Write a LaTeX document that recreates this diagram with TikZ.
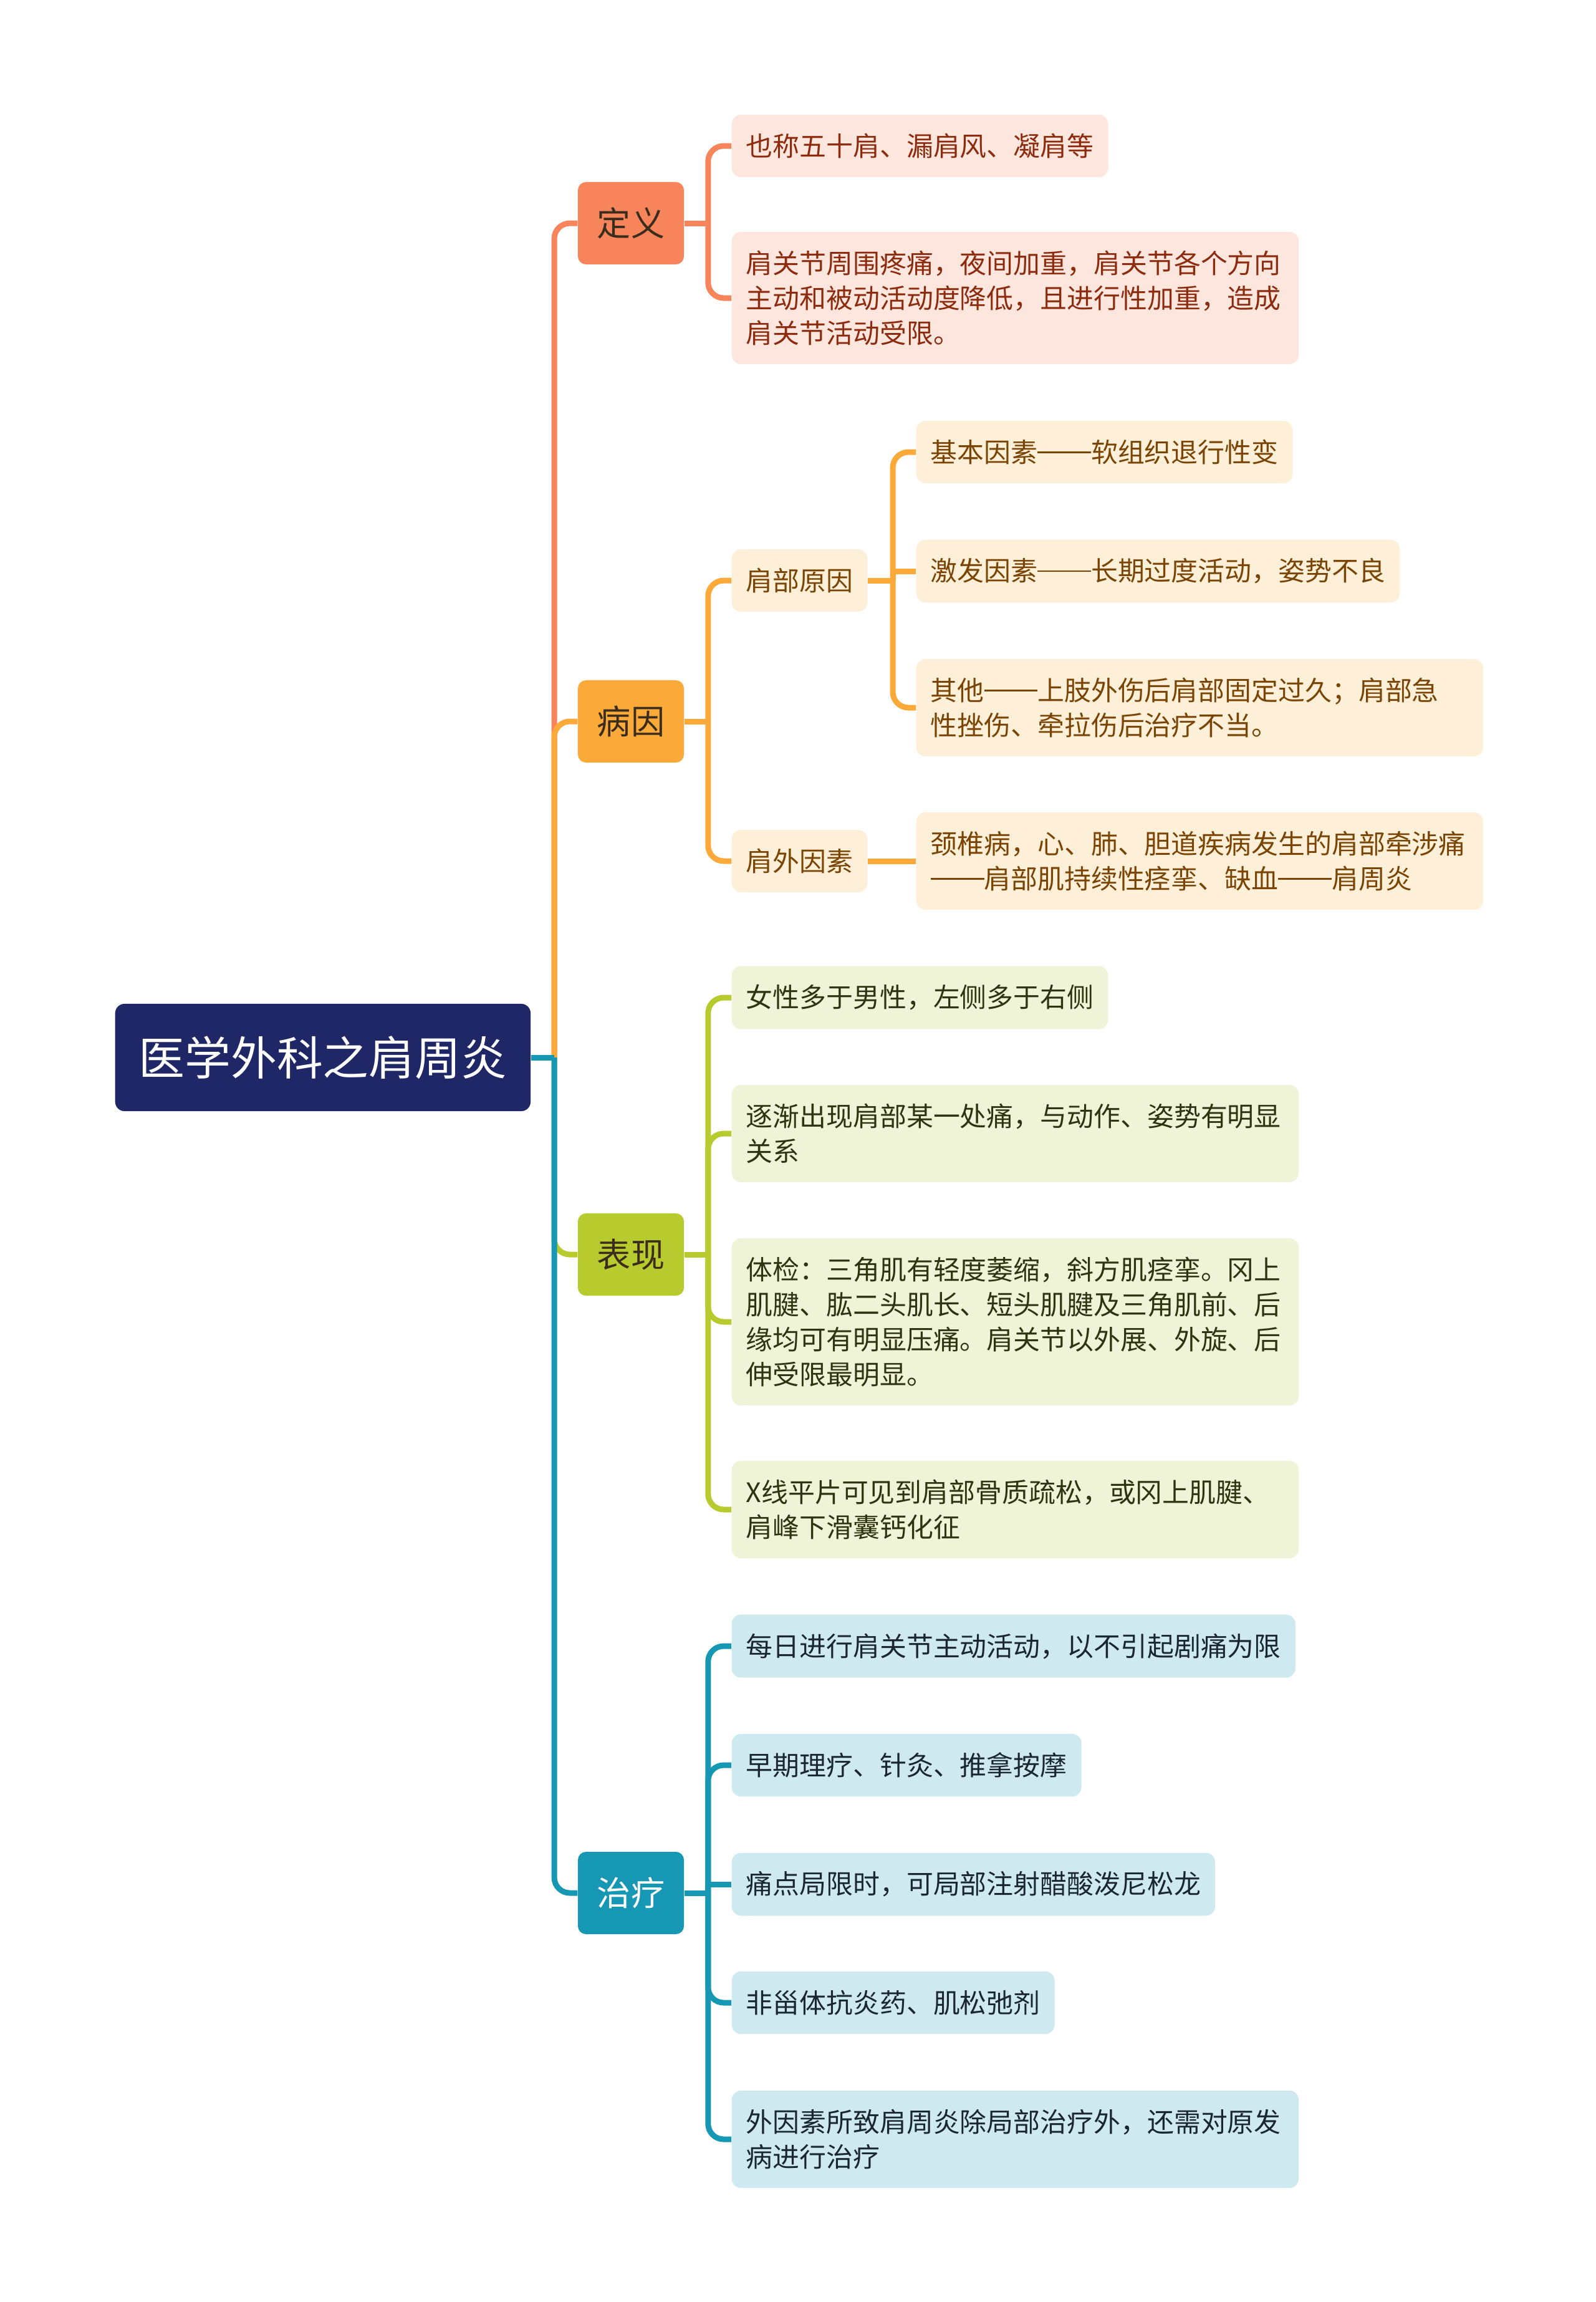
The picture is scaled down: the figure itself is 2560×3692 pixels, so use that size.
\documentclass[tikz,border=0pt]{standalone}
\usepackage{fontspec}
\usepackage{xcolor}
\usepackage{tikz}
\newfontfamily\cjk{Noto Sans CJK SC}
\newcommand\cnDash{\rule[0.34em]{2em}{0.06em}}

\definecolor{rootblue}{HTML}{202766}
\definecolor{topictext}{HTML}{3A2D1E}
\definecolor{defc}{HTML}{F7845A}
\definecolor{deflight}{HTML}{FDE6DD}
\definecolor{deftext}{HTML}{8C2B0E}
\definecolor{causec}{HTML}{FBAA3A}
\definecolor{causelight}{HTML}{FEF0D8}
\definecolor{causetext}{HTML}{7A4504}
\definecolor{showc}{HTML}{B7CB2E}
\definecolor{showlight}{HTML}{EFF3D7}
\definecolor{showtext}{HTML}{2F3410}
\definecolor{curec}{HTML}{1698B4}
\definecolor{curelight}{HTML}{CEE9F0}
\definecolor{curetext}{HTML}{1B2730}

\begin{document}
\begin{tikzpicture}[
    x=0.01cm, y=-0.01cm,
    root/.style={rectangle, fill=rootblue, text=white, rounded corners=0.15cm, minimum width=6.66cm, minimum height=1.72cm, font=\cjk\fontsize{21}{25}\selectfont},
    topic/.style={rectangle, rounded corners=0.13cm, minimum width=1.7cm, minimum height=1.32cm, inner sep=0pt, text=topictext, font=\cjk\fontsize{15.4}{18}\selectfont},
    leaf/.style={rectangle, rounded corners=0.15cm, anchor=west, align=left, inner xsep=0.23cm, inner ysep=0.3cm, font=\cjk\fontsize{12.2}{15.9}\selectfont},
    wide/.style={text width=8.63cm},
    link/.style={line width=0.09cm, rounded corners=0.25cm}
]
\useasboundingbox (0,0) rectangle (2560,3692);

\node[root, anchor=west] (root) at (184,1696) {医学外科之肩周炎};

\node[topic, fill=defc] (def) at (1012,358) {定义};
\node[topic, fill=causec] (cause) at (1012,1157) {病因};
\node[topic, fill=showc] (show) at (1012,2012) {表现};
\node[topic, fill=curec, text=white] (cure) at (1012,3036) {治疗};

% 定义
\node[leaf, fill=deflight, text=deftext] (d1) at (1173,234) {也称五十肩、漏肩风、凝肩等};
\node[leaf, wide, fill=deflight, text=deftext] (d2) at (1173,478) {肩关节周围疼痛，夜间加重，肩关节各个方向\\主动和被动活动度降低，且进行性加重，造成\\肩关节活动受限。};

% 病因
\node[leaf, fill=causelight, text=causetext] (c1) at (1173,931) {肩部原因};
\node[leaf, fill=causelight, text=causetext] (c2) at (1173,1381) {肩外因素};
\node[leaf, fill=causelight, text=causetext] (c11) at (1469,725) {基本因素\cnDash 软组织退行性变};
\node[leaf, fill=causelight, text=causetext] (c12) at (1469,916) {激发因素\cnDash 长期过度活动，姿势不良};
\node[leaf, wide, fill=causelight, text=causetext] (c13) at (1469,1135) {其他\cnDash 上肢外伤后肩部固定过久；肩部急\\性挫伤、牵拉伤后治疗不当。};
\node[leaf, wide, fill=causelight, text=causetext] (c21) at (1469,1381) {颈椎病，心、肺、胆道疾病发生的肩部牵涉痛\\\cnDash 肩部肌持续性痉挛、缺血\cnDash 肩周炎};

% 表现
\node[leaf, fill=showlight, text=showtext] (s1) at (1173,1600) {女性多于男性，左侧多于右侧};
\node[leaf, wide, fill=showlight, text=showtext] (s2) at (1173,1818) {逐渐出现肩部某一处痛，与动作、姿势有明显\\关系};
\node[leaf, wide, fill=showlight, text=showtext] (s3) at (1173,2120) {体检：三角肌有轻度萎缩，斜方肌痉挛。冈上\\肌腱、肱二头肌长、短头肌腱及三角肌前、后\\缘均可有明显压痛。肩关节以外展、外旋、后\\伸受限最明显。};
\node[leaf, wide, fill=showlight, text=showtext] (s4) at (1173,2421) {X线平片可见到肩部骨质疏松，或冈上肌腱、\\肩峰下滑囊钙化征};

% 治疗
\node[leaf, fill=curelight, text=curetext] (t1) at (1173,2640) {每日进行肩关节主动活动，以不引起剧痛为限};
\node[leaf, fill=curelight, text=curetext] (t2) at (1173,2831) {早期理疗、针灸、推拿按摩};
\node[leaf, fill=curelight, text=curetext] (t3) at (1173,3022) {痛点局限时，可局部注射醋酸泼尼松龙};
\node[leaf, fill=curelight, text=curetext] (t4) at (1173,3212) {非甾体抗炎药、肌松弛剂};
\node[leaf, wide, fill=curelight, text=curetext] (t5) at (1173,3431) {外因素所致肩周炎除局部治疗外，还需对原发\\病进行治疗};

% root to topics
\coordinate (trunk) at (889,1696);
\draw[link, defc] (trunk) |- (def.west);
\draw[link, causec] (trunk) |- (cause.west);
\draw[link, showc] (trunk) |- (show.west);
\draw[link, curec] (trunk) |- (cure.west);
\draw[link, curec] (root.east) -- (trunk);

% topics to leaves
\draw[link, defc] (def.east) -- ++(38,0) coordinate (defj);
\draw[link, defc] (defj) |- (d1.west);
\draw[link, defc] (defj) |- (d2.west);

\draw[link, causec] (cause.east) -- ++(38,0) coordinate (causej);
\draw[link, causec] (causej) |- (c1.west);
\draw[link, causec] (causej) |- (c2.west);
\draw[link, causec] (c1.east) -- ++(40,0) coordinate (c1j);
\draw[link, causec] (c1j) |- (c11.west);
\draw[link, causec, sharp corners] (c1j) |- (c12.west);
\draw[link, causec] (c1j) |- (c13.west);
\draw[link, causec] (c2.east) -- (c21.west);

\draw[link, showc] (show.east) -- ++(38,0) coordinate (showj);
\draw[link, showc] (showj) |- (s1.west);
\draw[link, showc] (showj) |- (s2.west);
\draw[link, showc] (showj) |- (s3.west);
\draw[link, showc] (showj) |- (s4.west);

\draw[link, curec] (cure.east) -- ++(38,0) coordinate (curej);
\draw[link, curec] (curej) |- (t1.west);
\draw[link, curec] (curej) |- (t2.west);
\draw[link, curec, sharp corners] (curej) |- (t3.west);
\draw[link, curec] (curej) |- (t4.west);
\draw[link, curec] (curej) |- (t5.west);
\end{tikzpicture}
\end{document}
